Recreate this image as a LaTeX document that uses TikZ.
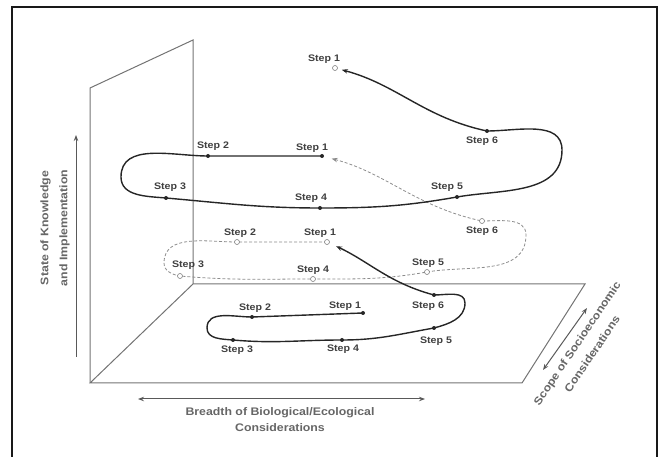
\documentclass[tikz,border=0pt]{standalone}
\usepackage{fontspec}
\newfontfamily\lblfont[FakeStretch=1.12]{Liberation Sans}
\usetikzlibrary{positioning,arrows.meta}

\tikzset{
  stepdot/.style={circle, fill=black!85, inner sep=0pt, minimum size=4pt},
  opendot/.style={circle, draw=black!50, fill=white, inner sep=0pt, minimum size=5pt, line width=0.6pt},
  steplbl/.style={font=\lblfont\bfseries\fontsize{9.5}{11}\selectfont, text=black!75, inner sep=0pt},
  axislbl/.style={font=\lblfont\bfseries\fontsize{11}{16}\selectfont, text=black!60, align=center, inner sep=0pt},
  plane/.style={draw=black!55, line width=1pt},
  axisline/.style={draw=black!65, line width=1pt},
  spiral/.style={draw=black!85, line width=1.4pt},
  spiraldash/.style={draw=black!45, line width=0.8pt, dash pattern=on 3pt off 2pt},
  tip/.style={-{Stealth[length=6pt,width=4.5pt]}},
  bothtips/.style={{Stealth[length=6pt,width=4.5pt]}-{Stealth[length=6pt,width=4.5pt]}},
}

\begin{document}
\begin{tikzpicture}[x=1pt, y=1pt]
    \useasboundingbox (0,0) rectangle (665,-457);

    % Frame
    \draw[line width=2pt, black!90] (12,-457) -- (12,-7) -- (657,-7) -- (657,-457);

    % Wall and floor
    \coordinate (wallTL) at (90,-88);
    \coordinate (wallTR) at (193,-40);
    \coordinate (wallBR) at (193,-284);
    \coordinate (floorBL) at (90,-383);
    \coordinate (floorBR) at (522,-383);
    \coordinate (floorTR) at (585,-284);
    \draw[plane] (floorBL) -- (wallTL) -- (wallTR) -- (wallBR);
    \draw[plane] (floorBL) -- (floorBR) -- (floorTR) -- (wallBR) -- cycle;

    % Axes
    \coordinate (upS) at (76,-357);
    \coordinate (upE) at (76,-135);
    \coordinate (brS) at (138,-399);
    \coordinate (brE) at (425,-399);
    \coordinate (scS) at (543,-370);
    \coordinate (scE) at (587,-308);
    \draw[axisline, tip] (upS) -- (upE);
    \draw[axisline, bothtips] (brS) -- (brE);
    \draw[axisline, bothtips] (scS) -- (scE);

    \node[axislbl, rotate=90, font=\lblfont\bfseries\fontsize{11}{19}\selectfont] (knowlbl) at (55,-228)
        {State of Knowledge\\and Implementation};
    \node[axislbl] (breadthlbl) at (280,-420) {Breadth of Biological/Ecological\\Considerations};
    \node[axislbl, rotate=56] (scopelbl) at (578,-344) {Scope of Socioeconomic};
    \node[axislbl, rotate=56] (scopelbl2) at (592,-354) {Considerations};

    % Top level
    \coordinate (t1) at (322,-156);
    \coordinate (t2) at (208,-156);
    \coordinate (tL) at (121,-177);
    \coordinate (t3) at (166,-198);
    \coordinate (t4) at (320,-208);
    \coordinate (t5) at (457,-197);
    \coordinate (tR) at (562,-150);
    \coordinate (t6) at (487,-131);
    \coordinate (tE) at (335,-68);

    % Middle level
    \coordinate (m1) at (327,-242);
    \coordinate (m2) at (237,-242);
    \coordinate (mL) at (164,-263);
    \coordinate (m3) at (180,-276);
    \coordinate (m4) at (313,-279);
    \coordinate (m5) at (427,-272);
    \coordinate (mR) at (526,-235);
    \coordinate (m6) at (482,-221);

    % Bottom level
    \coordinate (b1) at (363,-313);
    \coordinate (b2) at (252,-317);
    \coordinate (bL) at (207,-328);
    \coordinate (b3) at (233,-340);
    \coordinate (b4) at (342,-340);
    \coordinate (b5) at (434,-328);
    \coordinate (bR) at (465,-303);
    \coordinate (b6) at (434,-295);

    \draw[spiraldash, tip, shorten >=10pt] (m1) -- (m2) to[out=180,in=90] (mL) to[out=-90,in=170] (m3)
        to[out=-5,in=180] (m4) to[out=0,in=-170] (m5) to[out=10,in=-90] (mR)
        to[out=90,in=0] (m6) to[out=168,in=-15] (t1);
    \draw[spiral, tip, shorten >=10pt] (b1) -- (b2) to[out=180,in=90] (bL) to[out=-90,in=175] (b3)
        to[out=-5,in=180] (b4) to[out=0,in=-170] (b5) to[out=15,in=-90] (bR)
        to[out=90,in=0] (b6) to[out=165,in=-25] (m1);
    \draw[spiral, tip, shorten >=7pt] (t1) -- (t2) to[out=180,in=90] (tL) to[out=-90,in=175] (t3)
        to[out=-5,in=180] (t4) to[out=0,in=-170] (t5) to[out=10,in=-90] (tR)
        to[out=90,in=0] (t6) to[out=168,in=-15] (tE);

    % Dots
    \foreach \p in {t1,t2,t3,t4,t5,t6,b1,b2,b3,b4,b5,b6}
        \node[stepdot] (d\p) at (\p) {};
    \foreach \p in {m1,m2,m3,m4,m5,m6,tE}
        \node[opendot] (d\p) at (\p) {};

    % Step labels
    \node[steplbl] (ltE) at (324,-59) {Step 1};
    \node[steplbl] (lt2) at (213,-146) {Step 2};
    \node[steplbl] (lt1) at (312,-148) {Step 1};
    \node[steplbl] (lt3) at (170,-187) {Step 3};
    \node[steplbl] (lt4) at (311,-198) {Step 4};
    \node[steplbl] (lt5) at (447,-187) {Step 5};
    \node[steplbl] (lt6) at (482,-141) {Step 6};

    \node[steplbl] (lm2) at (240,-233) {Step 2};
    \node[steplbl] (lm1) at (320,-233) {Step 1};
    \node[steplbl] (lm3) at (188,-265) {Step 3};
    \node[steplbl] (lm4) at (313,-270) {Step 4};
    \node[steplbl] (lm5) at (428,-263) {Step 5};
    \node[steplbl] (lm6) at (482,-231) {Step 6};

    \node[steplbl] (lb2) at (255,-308) {Step 2};
    \node[steplbl] (lb1) at (345,-306) {Step 1};
    \node[steplbl] (lb3) at (237,-350) {Step 3};
    \node[steplbl] (lb4) at (343,-349) {Step 4};
    \node[steplbl] (lb5) at (436,-341) {Step 5};
    \node[steplbl] (lb6) at (428,-306) {Step 6};
\end{tikzpicture}
\end{document}
